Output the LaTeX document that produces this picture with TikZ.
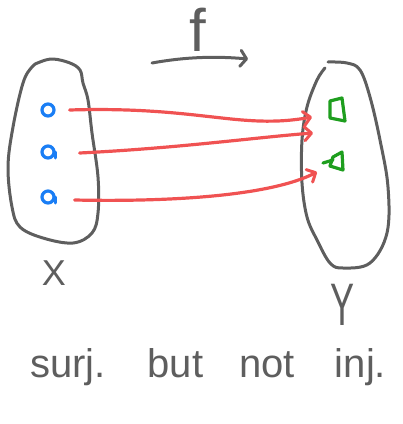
\documentclass[tikz,border=0pt]{standalone}
\usepackage{fontspec}
\setmainfont{Liberation Sans}
\usetikzlibrary{arrows.meta}
\definecolor{pen}{HTML}{5E5E5E}
\definecolor{redpen}{HTML}{F05252}
\definecolor{bluepen}{HTML}{1A7EF5}
\definecolor{greenpen}{HTML}{1E9E1E}
\tikzset{
  outline/.style={draw=pen, line width=3pt, line cap=round, line join=round},
  mapping/.style={draw=redpen, line width=3.2pt, line cap=round, line join=round,
    -{Straight Barb[length=7pt,width=14pt,line width=3pt,round]}},
  fdot/.style={circle, draw=bluepen, line width=3.2pt, minimum size=12pt, inner sep=0pt},
  gmark/.style={draw=greenpen, line width=3.2pt, line cap=round, line join=round},
  hand/.style={text=pen, inner sep=0pt},
}
\begin{document}
\begin{tikzpicture}[x=1pt, y=-1pt]
\useasboundingbox (0,0) rectangle (403,424);
% set X
\draw[outline] plot[smooth cycle, tension=0.6] coordinates {
  (40,62) (53,59) (70,63) (80,70) (83,83) (88,100) (92,133) (98,177) (98,213)
  (92,233) (73,243) (43,238) (20,227) (12,207) (8,167) (13,127) (23,83) (32,67)};
% set Y
\draw[outline] plot[smooth, tension=0.6] coordinates {
  (328,62) (347,63) (360,70) (370,97) (380,140) (388,187) (387,233) (370,263)
  (343,268) (330,263) (317,240) (307,217) (302,183) (302,140) (307,107)
  (317,80) (325,68)};
% elements of X
\node[fdot] (x1) at (48,110) {};
\node[fdot] (x2) at (48,152) {};
\node[fdot] (x3) at (48,197) {};
\draw[draw=bluepen, line width=3pt, line cap=round] (x2.east) -- ++(0,6);
\draw[draw=bluepen, line width=3pt, line cap=round] (x3.east) -- ++(0,6);
% elements of Y
\coordinate (y1) at (338,110);
\coordinate (y2) at (337,161);
\draw[gmark] (330,101) -- (342,98) -- (345,121) -- (330,118) -- cycle;
\draw[gmark] (333,157) -- (342,152) -- (343,170) -- (330,166) -- cycle;
\draw[gmark] (323,163) -- (333,160);
% arrows
\coordinate (a1s) at ([xshift=14pt]x1.east);
\coordinate (a1e) at ([xshift=-26pt,yshift=-7pt]y1);
\coordinate (a2s) at ([xshift=24pt,yshift=-1pt]x2.east);
\coordinate (a2e) at ([xshift=-25pt,yshift=-23pt]y1);
\coordinate (a3s) at ([xshift=19pt,yshift=-3pt]x3.east);
\coordinate (a3e) at ([xshift=-20pt,yshift=-11pt]y2);
\draw[mapping] (a1s) .. controls (200,106) and (240,130) .. (a1e);
\draw[mapping] (a2s) .. controls (180,148) and (250,138) .. (a2e);
\draw[mapping] (a3s) .. controls (170,202) and (270,196) .. (a3e);
% f arrow
\node[hand, font=\fontsize{60}{60}\selectfont] (f) at (198,30) {f};
\coordinate (fs) at (152,63);
\coordinate (fe) at (248,59);
\draw[outline, -{Straight Barb[length=6pt,width=16pt,line width=3pt,round]}]
  (fs) .. controls (185,57) and (215,56) .. (fe);
% labels
\node[hand, font=\fontsize{36}{36}\selectfont] (X) at (54,273) {X};
\node[hand, font=\fontsize{40}{40}\selectfont] (Y) at (343,305) {\scalebox{0.9}[1.5]{Y}};
\node[hand, font=\fontsize{40}{40}\selectfont, anchor=base west] (cap) at (30,377)
  {surj.\hspace{42pt}but\hspace{36pt}not\hspace{40pt}inj.};
\end{tikzpicture}
\end{document}
